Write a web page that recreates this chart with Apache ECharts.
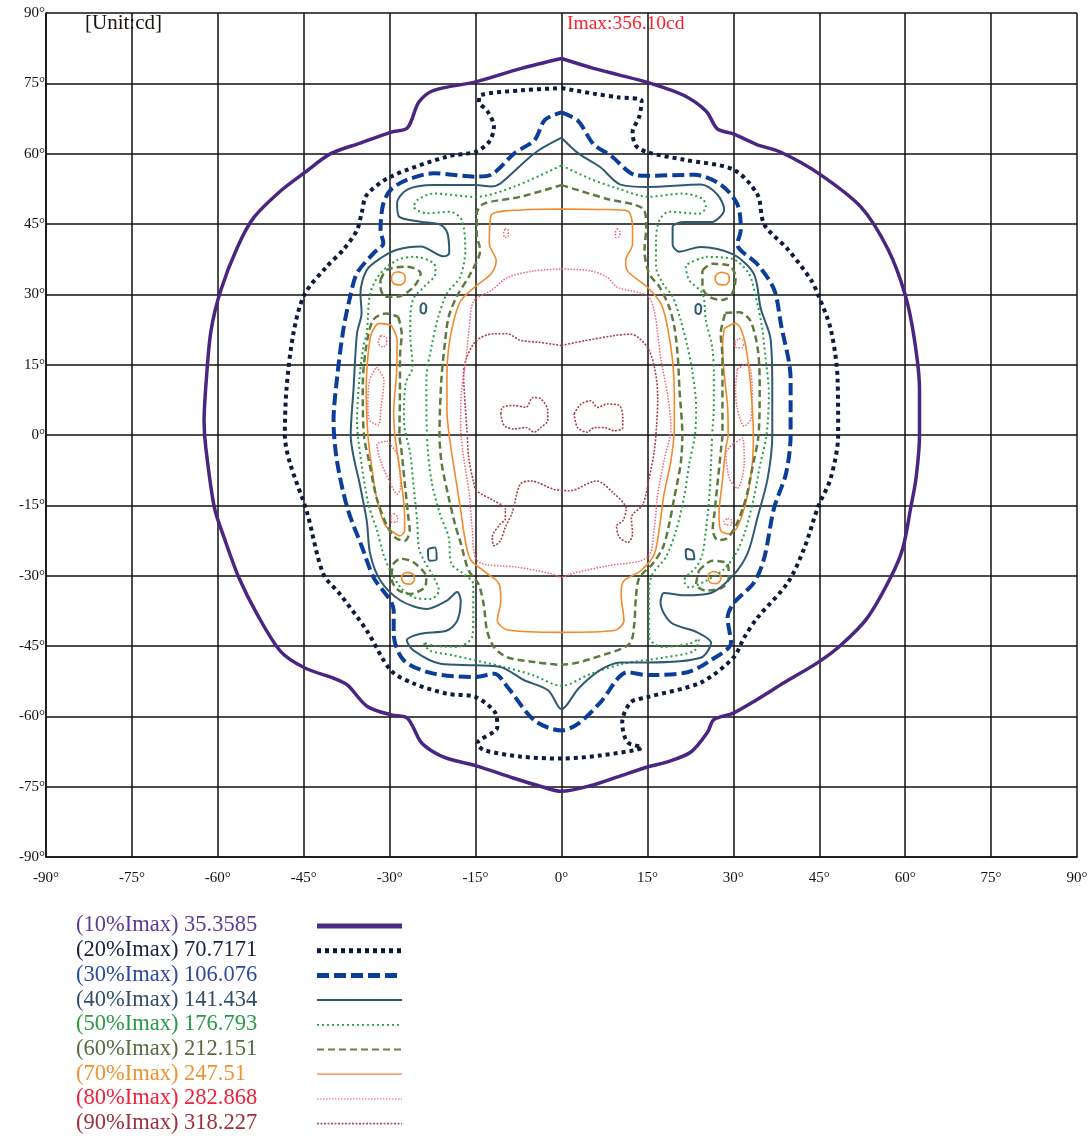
<!DOCTYPE html>
<html>
<head>
<meta charset="utf-8">
<script src="https://cdn.jsdelivr.net/npm/echarts@6/dist/echarts.min.js"></script>
<style>
  html, body { margin: 0; padding: 0; background: #fff; }
  #chart { width: 1092px; height: 1141px; }
</style>
</head>
<body>
<div id="chart"></div>
<script>
// axis ticks (degrees)
var axisMin = -90, axisMax = 90, axisStep = 15;

var unitText = '[Unit:cd]';
var imaxText = 'Imax:356.10cd';

var levelLabels = [
  '(10%Imax) 35.3585', '(20%Imax) 70.7171', '(30%Imax) 106.076',
  '(40%Imax) 141.434', '(50%Imax) 176.793', '(60%Imax) 212.151',
  '(70%Imax) 247.51', '(80%Imax) 282.868', '(90%Imax) 318.227'
];

// ---- isocandela contours, [horizontal deg, vertical deg] ----
// 10%
var c10 = [[0,80.3],[5.6,78.2],[10,76.8],[15,75.2],[21.4,72.4],[25.3,69],[27.2,65.3],[30,64.2],[34,62],[38.3,60.3],[45,55.7],[52.3,48.6],[57,39.6],[60,29.9],[61.6,20.5],[62.5,9.9],[62.5,0],[61.9,-9.2],[61,-15.3],[59.6,-24.1],[57.5,-30.3],[53.4,-39],[48.8,-44.8],[44.8,-48.5],[38.9,-52.8],[34,-56.5],[30,-59.3],[26.6,-60.7],[25.5,-63.4],[22.6,-67.6],[18.5,-69.7],[15,-70.8],[9.8,-72.9],[5,-74.8],[0,-76],[-4,-74.8],[-8.3,-73.2],[-15,-70.5],[-19.9,-69],[-22.5,-67.5],[-24.6,-65.4],[-26.9,-60.4],[-29.7,-59.7],[-33.9,-57.9],[-37.4,-53.3],[-39.7,-51.9],[-44.8,-49.7],[-49,-46.2],[-53.1,-38.3],[-56.3,-30.5],[-58.9,-21.9],[-60.6,-15.5],[-62.1,-2.7],[-62.4,3],[-62,12],[-61.2,22.2],[-59.5,30.8],[-56.6,40],[-53.7,46.4],[-49,52.1],[-44.8,56],[-40.3,60],[-35,62.3],[-29.7,64.6],[-26.9,65.5],[-24.9,71],[-22.3,73.5],[-15,75.3],[-7,78.2],[0,80.3]];

// 20%
var c20 = [[0,74],[5.6,72.8],[10,72],[14,71.3],[13.6,68],[12.4,64.5],[13,61.7],[15,60.3],[21.4,58.7],[30,56.6],[34.2,51.3],[35.4,44.9],[39.5,39.6],[43.5,33.2],[44.8,29.9],[47,22.6],[48.2,12],[48.3,0],[47,-9.2],[44.8,-15.3],[42.4,-24.1],[39.5,-31.5],[34.2,-39],[31.9,-43.2],[30,-47.5],[24.3,-52.8],[15,-55.9],[12.1,-57],[10.6,-61.3],[11.5,-65.5],[14,-66.6],[7,-68.3],[0,-69],[-7,-68.6],[-13.5,-67.2],[-14.7,-65.8],[-11.2,-62.3],[-11.5,-59.4],[-15,-55.9],[-19.9,-55.2],[-25.8,-53],[-29.8,-50.2],[-34,-41.7],[-38.7,-33.9],[-41.6,-29.6],[-44.5,-16.2],[-47.4,-6],[-48.3,0],[-48,10],[-46.8,21.7],[-44.9,29.9],[-41,35.9],[-38.1,39.5],[-35.7,43.7],[-34.9,47.3],[-34,51.2],[-29.8,55.1],[-19.9,59.4],[-15,60.4],[-12.6,62.6],[-11.8,65.8],[-12.9,69],[-14.4,71.1],[-14.1,72.5],[-7,73.5],[0,74]];

// 30%
var c30 = [[0,68.8],[2.9,67],[5.6,62],[8.7,59.5],[12.7,55.5],[15,55.3],[23.2,55.5],[27.8,53.4],[30.7,49.2],[31.3,43.8],[30.7,40.7],[34.2,36.4],[37.1,31.1],[38.3,23.7],[40,12],[40,0],[39.2,-8.2],[37.1,-15.6],[35.4,-26.2],[33.6,-31.5],[30.1,-35.8],[29,-39],[29.6,-44.3],[26.1,-48],[22,-50.6],[15,-51.2],[11.5,-50.6],[6.8,-57],[3,-61.5],[0,-63],[-4.7,-60.9],[-9.4,-53.8],[-11.7,-50.9],[-15,-51.6],[-22.3,-50.9],[-27.5,-48.1],[-29.3,-42.4],[-29.3,-37.4],[-32.8,-30.4],[-34.8,-24],[-37.4,-15.5],[-39.2,-5.5],[-39.8,3],[-39.2,12],[-38.1,22.4],[-36.9,29.5],[-35.7,34.5],[-32.8,38.8],[-31.1,40.9],[-31.6,43.7],[-31.1,49.4],[-29.8,52.3],[-27,54.4],[-22.3,55.8],[-15,55.1],[-12.3,55.5],[-8.2,60.1],[-4.7,62.9],[-2.9,67.2],[0,68.8]];

// 40%
var c40 = [[0,63.4],[3,60],[6.8,57.1],[10.3,53.4],[15,52.9],[24.3,53.4],[27.2,51.3],[28.4,48.1],[26.1,45.4],[21.4,45.4],[19.4,44.4],[19.4,40.7],[20.5,39.1],[24.3,40.1],[30,38.5],[33.6,34.3],[34.8,26.9],[36.5,20.5],[36.8,9.9],[36.8,0],[36,-9.2],[34.2,-17.7],[32.5,-25.2],[30,-29.9],[26.1,-33.7],[21.4,-34.2],[17.9,-33.7],[17.3,-35.8],[19.1,-40],[23.7,-42.1],[26.1,-44.3],[24.3,-47.5],[15,-48.5],[10.3,-48.5],[6.8,-50.1],[3,-54],[0,-58.5],[-2.3,-54.5],[-6.5,-52.3],[-10.6,-49.5],[-15,-49.1],[-21.1,-48.8],[-25.8,-46],[-27,-43.8],[-24.6,-42.4],[-20,-41.7],[-18.2,-39.6],[-17.6,-35.3],[-18.2,-33.5],[-20,-35.3],[-23.5,-37.1],[-28.1,-35.3],[-31.6,-31.1],[-33.4,-25.4],[-34,-18.3],[-35.1,-11.2],[-36.8,0],[-36.3,10],[-35.7,21.7],[-34.9,26],[-35.1,30.2],[-34,35.2],[-31.6,37.7],[-28.7,39.5],[-24.6,40.2],[-20.5,38.1],[-19.6,38.8],[-19.9,43],[-21.1,44.8],[-24.6,45.5],[-28.4,46.6],[-28.7,49.4],[-27,52.3],[-22.3,53.3],[-15,53.3],[-12.3,53],[-10.6,53.7],[-4.7,60.1],[0,63.4]];
var c40dotUL = [[-24.1,28.2],[-23.6,27.5],[-23.7,26.3],[-24.1,25.9],[-24.6,26.4],[-24.6,27.5],[-24.1,28.2]];
var c40dotUR = [[23.9,28],[24.4,27.4],[24.3,26.2],[23.9,25.8],[23.4,26.3],[23.4,27.4],[23.9,28]];
var c40dotLL = [[-23.3,-24.3],[-22.1,-24],[-21.8,-26.5],[-23,-26.8],[-23.3,-25.4],[-23.3,-24.3]];
var c40dotLR = [[21.7,-24.3],[22.9,-24.7],[23.2,-26.5],[22,-26.5],[21.7,-25.4],[21.7,-24.3]];

// 50%
var c50 = [[0,57.5],[4.9,54.7],[10,52.5],[15.1,50.8],[21.1,51.5],[24.6,50.4],[25.2,48.6],[24,47.2],[18.8,47.6],[17.1,45.8],[16.5,41.5],[16.5,35.9],[17.7,32.3],[19.4,29.5],[20.8,24.5],[22,18.8],[22.9,13.1],[23.5,6],[23.3,0],[22.3,-6.2],[21.4,-13.3],[20,-20.4],[18.2,-26.1],[15.9,-29.6],[15.3,-32.5],[15.3,-43.1],[17.7,-45.2],[22.3,-44.5],[24,-43.5],[23.2,-46],[18.2,-47.4],[10.7,-48.8],[5,-51],[0,-53.5],[-5,-51.2],[-10,-49.5],[-18.9,-47],[-23,-46],[-24.1,-44.2],[-22.4,-44.9],[-18.3,-45.2],[-15.6,-43.1],[-15.4,-38.9],[-15.4,-31.8],[-17.1,-29.6],[-19.2,-27.5],[-19.7,-21.8],[-21.2,-16.9],[-22.7,-9.8],[-23.5,0],[-23.6,11.7],[-22.7,18.8],[-21.5,25.2],[-20,30.2],[-17.7,33.7],[-16.8,39.4],[-17.4,45.8],[-19.4,47.6],[-23.5,47.3],[-25.8,48.7],[-25.2,50.1],[-22.3,51.5],[-15,50.8],[-8.2,53],[0,57.5]];
var c50L = [[-26.4,20.3],[-26,14.5],[-27.2,11],[-27.5,3],[-26.4,-4],[-25.8,-11.2],[-25.2,-18.3],[-24.9,-24],[-24,-26.8],[-22.3,-30.4],[-21.4,-33.2],[-22.9,-35],[-25.8,-34.6],[-28.1,-32.5],[-29.9,-28.9],[-31.1,-25.4],[-32.2,-20.4],[-33.7,-14.8],[-34.9,-6.2],[-35.7,3],[-35.3,11.7],[-34.6,18.8],[-34,21.7],[-33.4,30.2],[-31.6,34.5],[-28.7,37.3],[-25.8,38],[-22.3,36.6],[-22,34.5],[-24,31.6],[-25.8,29.2],[-26.4,25.2],[-26.4,20.3]];
var c50R = [[25.2,38],[29.8,37.6],[32.7,34.4],[33.9,29.5],[35,23.1],[35.6,16.7],[36.2,8.9],[35.8,0],[34.7,-6.2],[33.6,-13.3],[32.1,-20.4],[30.4,-25.4],[28.1,-28.9],[25.2,-31.1],[22.3,-32.5],[21.4,-31.1],[23.5,-28.2],[24.6,-25.4],[25.2,-20.4],[25.8,-13.3],[26.1,-6.2],[26.3,0],[26.6,6],[26.6,13.1],[26.3,18.8],[25.2,24.5],[24.6,30.2],[22.3,33],[21.7,35.9],[25.2,38]];

// 60%
var c60 = [[0,53.3],[7.8,50.4],[14.2,48.3],[14.8,44.4],[14.5,39.4],[15.3,34.4],[17.1,31.6],[18.8,27.3],[19.7,23.1],[20.3,16.7],[20.6,9.6],[21.1,0],[20.8,-6.2],[19.7,-13.3],[18.8,-19],[17.7,-24],[15.9,-27.5],[13.6,-30.4],[13,-34.6],[12.7,-40.3],[11.9,-44.5],[7.8,-46.7],[0,-49],[-4.8,-48.4],[-9.5,-47.4],[-11.8,-45.2],[-13,-41.7],[-13.6,-36],[-14.5,-31.8],[-16.2,-28.9],[-17.7,-22.6],[-18.6,-19],[-19.7,-13.3],[-20.9,-6.2],[-21.3,0],[-21.2,6],[-20.9,13.1],[-20.3,20.2],[-19.7,25.2],[-18.3,29.5],[-15.9,34.4],[-14.2,39.4],[-14.8,42.9],[-14.8,47.2],[-13.6,49.3],[-7.2,50.8],[0,53.3]];
var c60L = [[-28.5,25.2],[-27.9,21.6],[-28.2,16.7],[-28.2,9.6],[-28.3,0],[-28,-2.7],[-27.4,-9.8],[-26.8,-16.9],[-26.5,-20.4],[-27.4,-22.6],[-29.1,-21.8],[-30.6,-19],[-32.3,-13.3],[-33.5,-6.2],[-34.5,0],[-34.7,10],[-34.2,18],[-32.9,24.5],[-30.6,25.9],[-28.5,25.2]];
var c60R = [[28.6,26],[31,26.2],[33,24.3],[34.3,18],[34.6,10],[34.4,0],[33.4,-6.5],[32.2,-13.5],[30.5,-19.2],[28.9,-22],[27.3,-22.4],[26.4,-20.2],[26.7,-16.7],[27.3,-9.6],[27.9,-2.5],[28.1,0],[28.1,9.6],[28.1,16.7],[27.8,21.6],[28.6,26]];
var c60UL = [[-31.6,33.1],[-30.5,35.2],[-27,35.9],[-24.6,34.5],[-25.8,31.6],[-28.7,29.5],[-30.8,29.5],[-31.6,31.6],[-31.6,33.1]];
var c60UR = [[24.6,35.1],[26.3,36.5],[29.2,36.2],[30.4,33.7],[29.8,30.2],[28.1,28.8],[25.8,29.5],[24.6,31.6],[24.6,35.1]];
var c60LL = [[-29.4,-27.5],[-28.2,-26.4],[-25.9,-27.1],[-23.6,-30.4],[-23.9,-32.5],[-26.5,-33.9],[-28.8,-32.8],[-29.7,-30.4],[-29.4,-27.5]];
var c60LR = [[24,-28.9],[26.3,-26.8],[29,-27.5],[29.2,-30.4],[28.1,-32.5],[25.2,-33.2],[23.5,-31.8],[24,-28.9]];

// 70%
var c70 = [[0,48.2],[7,48.1],[11.5,47.8],[12.4,44.3],[12.4,40.7],[11.2,37.2],[11.5,35],[15,31.5],[17.4,27.9],[18.5,23],[19.4,15.8],[19.7,8.7],[19.7,1.6],[19.1,-5.5],[17.9,-12.6],[17.1,-19.7],[16.2,-25.4],[13.9,-28.9],[10.9,-31.1],[10.4,-33.9],[10.9,-39.6],[9.2,-41.7],[0,-42.1],[-9.4,-41.6],[-11.2,-39.5],[-10.6,-35.3],[-10.9,-31.7],[-12.9,-29.6],[-15.8,-26.7],[-16.7,-23.2],[-17.6,-16.1],[-18.5,-9],[-19.4,-1.9],[-20,5.2],[-20,12.4],[-19.7,18.7],[-18.8,24.4],[-17.6,28.6],[-15.2,31.5],[-12.3,34.4],[-11.4,37.2],[-12.6,40.8],[-12.3,46.8],[-7,48],[0,48.2]];
var c70L = [[-29.7,23.4],[-28.7,20.2],[-28.8,13.1],[-29.3,5],[-29.1,0],[-28.8,-2.7],[-28,-9.8],[-27.4,-16.9],[-27.4,-20.4],[-28.2,-21.5],[-29.7,-20.4],[-30.9,-19],[-32.3,-13.3],[-33.2,-6.2],[-33.8,0],[-34.1,9.6],[-33.8,16.7],[-33.2,21.6],[-31.8,23.8],[-29.7,23.4]];
var c70R = [[28.4,22.7],[30.4,23.8],[31.8,20.9],[32.7,14.5],[33.3,6],[33.5,0],[33.3,-6.2],[32.4,-13.3],[30.7,-19.7],[29.2,-21.1],[27.8,-20.4],[27.5,-16.9],[28.1,-9.8],[28.7,-2.7],[29.1,0],[29,6],[28.4,13.1],[28.1,18.8],[28.4,22.7]];
var c70UL = [[-28.5,34.8],[-27.4,34.2],[-27.3,33],[-28.1,32],[-29.2,32.2],[-29.7,33.4],[-29.3,34.5],[-28.5,34.8]];
var c70UR = [[28,34.7],[29.1,34.2],[29.3,33],[28.5,32],[27.3,32.2],[26.8,33.3],[27.2,34.4],[28,34.7]];
var c70LL = [[-26.8,-29.3],[-25.8,-29.8],[-25.7,-31],[-26.5,-31.8],[-27.6,-31.5],[-27.9,-30.3],[-27.5,-29.5],[-26.8,-29.3]];
var c70LR = [[26.6,-29.1],[27.6,-29.6],[27.8,-30.8],[27,-31.7],[25.9,-31.4],[25.6,-30.2],[25.9,-29.4],[26.6,-29.1]];

// 80%
var c80 = [[0,35.4],[5.1,35],[8,33.6],[9.8,31.5],[15,29.7],[16.2,26.5],[16.8,21.5],[17.4,15.8],[18.5,8.7],[19.1,1.6],[17.9,-5.5],[16.8,-12.6],[16.2,-19.7],[15,-26.1],[8,-27.9],[2,-29.5],[0,-30.3],[-2,-29.5],[-7.7,-28.2],[-14.7,-26.8],[-15.6,-19.7],[-16.1,-12.6],[-17,-5.5],[-17.6,1.6],[-17.5,8.7],[-16.7,15.8],[-16.1,23],[-15.3,28.6],[-12.3,30.8],[-9.4,33.6],[-4.8,35],[0,35.4]];
var c80TL = [[-9.9,44],[-9.3,43.7],[-9.3,42.4],[-9.9,42.1],[-10.1,43],[-9.9,44]];
var c80TR = [[9.7,44],[10.2,43.3],[10.1,42.3],[9.5,42.1],[9.4,43.2],[9.7,44]];
var c80La = [[-31.6,21.2],[-30.6,20.8],[-30.5,19.5],[-31.2,18.8],[-32,19.6],[-31.6,21.2]];
var c80Lb = [[-32.3,14.5],[-31,11.7],[-31.5,6],[-32,2.1],[-33.5,3.2],[-33.8,6],[-33.5,11.7],[-32.3,14.5]];
var c80Lc = [[-30.5,-1.3],[-28.7,-4.1],[-28.1,-11.2],[-28.7,-12.6],[-29.8,-10.5],[-31.6,-5.5],[-32.2,-2],[-30.5,-1.3]];
var c80Ld = [[-29.3,-16.8],[-28.6,-17.5],[-28.8,-18.6],[-29.6,-18.6],[-29.8,-17.5],[-29.3,-16.8]];
var c80Ra = [[31,20.6],[31.9,19.9],[31.5,18.6],[30.5,18.7],[30.3,19.8],[31,20.6]];
var c80Rb = [[30.7,14.1],[32.5,15.2],[33.3,9.9],[33.1,3.5],[31.9,1.9],[30.7,5.6],[30.4,9.9],[30.7,14.1]];
var c80Rc = [[30.1,-1.8],[31.6,-0.7],[31.9,-6.1],[30.7,-11.4],[29.3,-9.2],[28.7,-3.9],[30.1,-1.8]];
var c80Rd = [[29,-17.8],[29.7,-18.2],[29.6,-19.2],[28.7,-19.2],[28.4,-18.4],[29,-17.8]];

// 90%
var c90 = [[0,19.1],[4,20.1],[9.2,21.2],[12.1,21.5],[15,18.7],[16.3,14],[16.8,8],[16.6,2],[16.2,-3.4],[15.2,-9.8],[14.2,-14.8],[12.2,-17.6],[12.4,-21.1],[11.6,-22.9],[10.1,-21.8],[9.6,-19.4],[10.7,-18.3],[11.3,-15.8],[9,-12.3],[6.1,-9.8],[1.4,-11.9],[0,-11.8],[-1.3,-11.6],[-5.4,-9.8],[-7.2,-10.5],[-8.6,-16.5],[-9.8,-19.7],[-10.7,-22.6],[-11.8,-23.6],[-12.1,-21.8],[-10.7,-19],[-9.8,-17.9],[-9.8,-15.8],[-11.8,-14],[-14.8,-11.9],[-15.4,-9.8],[-16.2,-4.8],[-16.5,0.9],[-16.8,6],[-17.1,13.1],[-16.5,16.7],[-14.8,20.2],[-11.8,21.6],[-9.5,21.6],[-7.2,20.2],[-4.2,19.8],[0,19.1]];
var c90L = [[-10.6,4.5],[-10.3,5.9],[-8.3,6.3],[-6.2,5.9],[-5,8],[-3.6,7.7],[-2.4,5.2],[-2.4,3.1],[-3.6,1.6],[-4.8,0.6],[-6.2,1.6],[-8.3,1.3],[-10,2],[-10.6,4.5]];
var c90R = [[2.2,4.5],[3.4,6.6],[5.1,7.3],[6.3,5.9],[8,6.6],[10.1,6.3],[10.7,3.8],[10.7,1.6],[9.2,0.9],[7.5,1.6],[5.7,1.6],[4.5,0.6],[2.8,1.6],[2.2,4.5]];

var levelPieces = [
  [c10],
  [c20],
  [c30],
  [c40, c40dotUL, c40dotUR, c40dotLL, c40dotLR],
  [c50, c50L, c50R],
  [c60, c60L, c60R, c60UL, c60UR, c60LL, c60LR],
  [c70, c70L, c70R, c70UL, c70UR, c70LL, c70LR],
  [c80, c80TL, c80TR, c80La, c80Lb, c80Lc, c80Ld, c80Ra, c80Rb, c80Rc, c80Rd],
  [c90, c90L, c90R]
];

// line look of each level
var levelStyles = [
  { color: '#4a2682', width: 3.5, type: 'solid' },
  { color: '#0e1a3e', width: 4, type: [4, 4] },
  { color: '#0b3e98', width: 4, type: [12, 5] },
  { color: '#2e5a72', width: 2, type: 'solid' },
  { color: '#24a040', width: 2, type: [2, 3] },
  { color: '#5e7b3e', width: 2.5, type: [7, 4] },
  { color: '#f28a2c', width: 1.6, type: 'solid' },
  { color: '#f06478', width: 1.5, type: [1.5, 1.5] },
  { color: '#a8404c', width: 1.6, type: [2, 1.5] }
];
var legendTextColors = ['#5a3c98', '#1b2040', '#2d4aa0', '#2f4f6a', '#2a9a4a', '#5c6a40', '#f0922e', '#f0203a', '#a03040'];
var legendLineColors = ['#4f2a85', '#0e1a3e', '#0b3e98', '#2e5a72', '#24a040', '#6a8048', '#f4a070', '#f4a0b0', '#b05060'];

var series = [];
levelPieces.forEach(function (pieces, i) {
  pieces.forEach(function (p) {
    series.push({
      name: levelLabels[i],
      type: 'line',
      data: p,
      symbol: 'none',
      smooth: 0.3,
      silent: true,
      z: 10 - i,
      lineStyle: {
        color: levelStyles[i].color,
        width: levelStyles[i].width,
        type: levelStyles[i].type,
        cap: 'butt'
      }
    });
  });
});

var graphics = [
  { type: 'text', left: 85, top: 13, style: { text: unitText, font: '21px "Liberation Serif"', fill: '#1a1410' } },
  { type: 'text', left: 567, top: 14, style: { text: imaxText, font: '19.5px "Liberation Serif"', fill: '#ff1e2a' } }
];
levelLabels.forEach(function (lab, i) {
  var y = 926 + i * 24.7;
  graphics.push({
    type: 'text', left: 76, top: y - 12,
    style: { text: lab, font: '22.5px "Liberation Serif"', fill: legendTextColors[i] }
  });
  graphics.push({
    type: 'line',
    shape: { x1: 317, y1: y, x2: 402, y2: y },
    style: {
      stroke: legendLineColors[i],
      lineWidth: i < 3 ? 5 : (i === 3 ? 2 : 1.8),
      lineDash: levelStyles[i].type === 'solid' ? null : levelStyles[i].type,
      lineCap: 'butt'
    }
  });
});

var axisCommon = {
  type: 'value',
  min: axisMin,
  max: axisMax,
  interval: axisStep,
  axisLine: { show: true, onZero: false, lineStyle: { color: '#111', width: 1.5 } },
  axisTick: { show: false },
  splitLine: { show: true, lineStyle: { color: '#111', width: 1.5 } },
  axisLabel: { formatter: '{value}°', color: '#111', fontFamily: 'Liberation Serif', fontSize: 15 }
};

var chart = echarts.init(document.getElementById('chart'));
chart.setOption({
  animation: false,
  backgroundColor: '#fff',
  grid: { left: 46, right: 15, top: 13, bottom: 284 },
  xAxis: Object.assign({}, axisCommon, { axisLabel: Object.assign({}, axisCommon.axisLabel, { margin: 14 }) }),
  yAxis: Object.assign({}, axisCommon, { axisLabel: Object.assign({}, axisCommon.axisLabel, { margin: 1 }) }),
  graphic: graphics,
  series: series
});
</script>
</body>
</html>
